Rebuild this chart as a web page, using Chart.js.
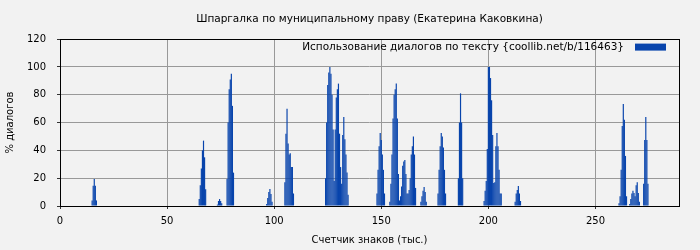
<!DOCTYPE html>
<html>
<head>
<meta charset="utf-8">
<script src="https://cdn.jsdelivr.net/npm/chart.js@4/dist/chart.umd.min.js"></script>
<style>
html,body{margin:0;padding:0;background:#f2f2f2;}
#wrap{width:700px;height:250px;}
</style>
</head>
<body>
<div id="wrap"><canvas id="c" width="700" height="250"></canvas></div>
<script>
// Character offset (thousands) of each non-empty bar
const charCounts = [
  15,15.5,16,16.5,17,
  65,65.5,66,66.5,67,67.5,68,
  73.5,74,74.5,75,75.5,
  78,78.5,79,79.5,80,80.5,81,
  96.5,97,97.5,98,98.5,99,
  105,105.5,106,106.5,107,107.5,108,108.5,109,
  124,124.5,125,125.5,126,126.5,127,127.5,128,128.5,129,129.5,130,130.5,131,131.5,132,132.5,133,133.5,134,134.5,
  148,148.5,149,149.5,150,150.5,151,151.5,
  154,154.5,155,155.5,156,156.5,157,157.5,158,158.5,159,159.5,160,160.5,161,161.5,162,162.5,163,163.5,164,164.5,165,165.5,166,
  168.5,169,169.5,170,170.5,171,
  176.5,177,177.5,178,178.5,179,179.5,180,
  186,186.5,187,187.5,188,
  198,198.5,199,199.5,200,200.5,201,201.5,202,202.5,203,203.5,204,204.5,205,205.5,206,
  212.5,213,213.5,214,214.5,215,
  261,261.5,262,262.5,263,263.5,264,264.5,
  266,266.5,267,267.5,268,268.5,269,269.5,270,270.5,
  272.5,273,273.5,274,274.5
];
// Percentage of dialogue for each bar
const dialogPercent = [
  4,14.5,19.5,14.5,4,
  5,15,27,40,47,35,12,
  1,3.6,5,3.6,2,
  19.5,60,84,91,95,72,24,
  1.5,5.8,10,12.3,8.7,3,
  17,52,70,45,37,38,28,28,9,
  20,60,87,96,100,95,80,55,18,55,78,84,88,52,28,16,51,64,48,37,24,8,
  9,26,43,52.5,47.5,37,26,9,
  3,16,37,63,80,84,88,63,23,4,7,14,29,32,33,23,9,9,11.5,20,37,43,50,37,13,
  3,7,11,13.7,10,3,
  9,26,43,52.5,50,42,26,9,
  20,60,81,60,20,
  3.6,11,18,41,100,100,92,76,51,16.5,17,43,52.5,43,26,9,9,
  3,9,11.5,14.4,9,3.6,
  2,7,26,57.6,73.4,62,36,7,
  1.4,5,9,11,9.4,7,15,17,9.4,3,
  16,47.5,64,47.5,16
];
const xTicks = [0,50,100,150,200,250];
const yTicks = [0,20,40,60,80,100,120];
const seriesName = 'Использование диалогов по тексту {coollib.net/b/116463}';
const chartTitle = 'Шпаргалка по муниципальному праву (Екатерина Каковкина)';
const BAR_COLOR = '#0844ac';

const FONT = {family:'DejaVu Sans', size:10};

const framePlugin = {
  id:'frame',
  beforeDraw(chart){
    const ctx = chart.ctx;
    ctx.save();
    ctx.fillStyle = '#f2f2f2';
    ctx.fillRect(0,0,chart.width,chart.height);
    ctx.restore();
  },
  afterDatasetsDraw(chart){
    const a = chart.chartArea, ctx = chart.ctx;
    ctx.save();
    ctx.strokeStyle = '#000';
    ctx.lineWidth = 1;
    ctx.strokeRect(Math.round(a.left)+0.5, Math.round(a.top)+0.5, Math.round(a.right-a.left), Math.round(a.bottom-a.top));
    // legend (text on the left, colour box on the right)
    const ds = chart.data.datasets[0];
    ctx.font = '10.5px "DejaVu Sans"';
    ctx.fillStyle = '#000';
    ctx.textAlign = 'right';
    ctx.textBaseline = 'middle';
    ctx.fillText(ds.label, a.right - 55, a.top + 8);
    ctx.fillStyle = ds.backgroundColor;
    ctx.fillRect(a.right - 44, a.top + 4.5, 31, 7);
    ctx.restore();
  }
};

new Chart(document.getElementById('c'), {
  type:'bar',
  data:{
    datasets:[{
      label: seriesName,
      data: charCounts.map((x,i)=>({x:x, y:dialogPercent[i]})),
      backgroundColor: BAR_COLOR,
      borderWidth:0,
      barPercentage:1.1,
      categoryPercentage:1
    }]
  },
  options:{
    responsive:false,
    animation:false,
    layout:{padding:{left:0,right:21,top:0,bottom:0}},
    plugins:{
      title:{display:true,fullSize:false,text:chartTitle,color:'#000',font:{family:'DejaVu Sans',size:10.5,weight:'normal'},padding:{top:13,bottom:13.5}},
      legend:{display:false},
      tooltip:{enabled:false}
    },
    scales:{
      x:{
        type:'linear',
        offset:false,
        min:0,max:289,
        afterFit(s){s.height=44;},
        afterBuildTicks(s){s.ticks = xTicks.map(v=>({value:v}));},
        ticks:{color:'#000',font:FONT,padding:6,maxRotation:0},
        grid:{offset:false,color:'#999',borderDash:[2,3],tickLength:3,tickColor:'#333',tickBorderDash:[]},
        border:{display:false},
        title:{display:true,text:'Счетчик знаков (тыс.)',color:'#000',font:FONT,padding:{top:4,bottom:4}}
      },
      y:{
        min:0,max:120,
        afterFit(s){s.width=60;},
        afterBuildTicks(s){s.ticks = yTicks.map(v=>({value:v}));},
        ticks:{color:'#000',font:FONT,padding:11},
        grid:{color:'#999',borderDash:[2,3],tickLength:3,tickColor:'#333',tickBorderDash:[]},
        border:{display:false},
        title:{display:true,text:'% диалогов',color:'#000',font:FONT,padding:{top:4,bottom:0}}
      }
    }
  },
  plugins:[framePlugin]
});
</script>
</body>
</html>
